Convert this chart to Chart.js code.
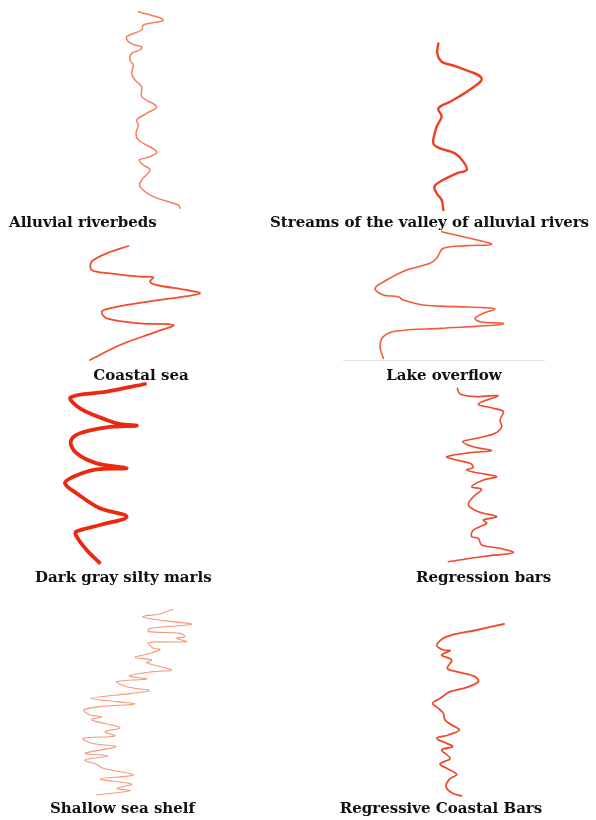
<!DOCTYPE html>
<html><head><meta charset="utf-8">
<script src="https://cdn.jsdelivr.net/npm/chart.js@4.4.1/dist/chart.umd.min.js"></script>
<style>
html,body{margin:0;padding:0;background:#fff;width:596px;height:820px;overflow:hidden;position:relative;font-family:"DejaVu Serif",serif;}
.box{position:absolute;}
.lbl{position:absolute;font-weight:bold;font-size:15px;color:#111;white-space:nowrap;line-height:18px;}
.rule{position:absolute;height:1px;background:#e2e2e2;}
</style></head><body>
<script>
// Panel titles
const titles = ["Alluvial riverbeds","Streams of the valley of alluvial rivers","Coastal sea","Lake overflow","Dark gray silty marls","Regression bars","Shallow sea shelf","Regressive Coastal Bars"];

// Log curves: value (curve deflection) and depth (arbitrary units per panel)
const riverbedsValue = [175,250,190,185,140,145,165,185,180,155,150,160,155,165,185,185,230,200,170,175,168,175,230,210,178,190,210,185,180,220,295,300];
const riverbedsDepth = [35,60,75,90,110,125,135,140,150,160,180,195,220,240,260,290,320,340,360,375,400,420,455,470,480,495,510,540,560,590,615,625];

const streamsValue = [115,112,125,170,245,200,150,115,125,110,100,120,165,190,200,170,120,103,110,125,130];
const streamsDepth = [40,70,95,110,145,185,215,235,260,290,340,355,370,395,420,430,455,470,490,510,540];

const coastalValue = [295,230,185,185,240,330,370,360,380,470,510,460,320,240,215,230,330,430,380,270,180];
const coastalDepth = [18,40,65,90,100,110,112,125,135,150,160,170,190,205,215,235,250,255,275,315,360];

const lakeValue = [305,390,455,380,310,290,270,200,140,105,130,175,190,250,350,430,465,430,405,420,490,470,300,170,130,120,130];
const lakeDepth = [20,40,58,62,70,100,115,135,165,190,210,215,225,240,245,248,252,265,280,290,295,300,310,318,335,365,400];

const marlsValue = [315,200,92,120,200,240,290,200,120,92,110,170,260,170,100,75,110,180,260,180,108,110,140,178];
const marlsDepth = [12,35,52,85,120,132,137,142,160,185,220,250,265,268,290,310,340,385,410,435,455,470,510,548];

const regressionValue = [112,120,170,235,175,220,250,240,245,225,170,128,160,215,150,80,100,150,160,140,180,230,190,155,185,160,145,175,230,190,200,160,155,175,185,240,280,200,85];
const regressionDepth = [25,42,50,47,72,85,95,120,140,160,175,185,200,212,218,230,238,250,262,270,280,290,300,320,328,350,375,395,410,420,430,450,470,475,495,505,518,528,545];

const shelfValue = [368,330,278,340,425,300,295,390,405,380,410,295,310,330,300,255,305,290,365,310,238,290,200,230,298,200,122,200,255,150,102,120,155,125,210,165,195,100,125,198,105,175,105,140,160,250,150,245,200,240,140];
const shelfDepth = [28,42,50,62,73,85,95,100,110,115,125,128,145,148,160,172,180,188,210,215,228,237,245,260,272,285,295,305,312,320,330,345,350,360,383,395,408,415,430,440,460,468,480,493,505,525,537,552,565,572,585];

const barsValue = [282,200,110,80,100,120,95,125,112,140,195,205,170,120,90,68,85,100,105,125,148,115,80,110,128,95,120,90,110,140,118,108,125,155];
const barsDepth = [42,60,80,105,120,122,135,150,175,185,200,215,232,245,265,280,295,310,330,345,360,375,385,400,410,420,445,462,475,493,508,530,548,558];

const panels = [
  {v:riverbedsValue,d:riverbedsDepth,left:80,top:0,w:160,h:215,color:'#f57f5f',width:1.5},
  {v:streamsValue,d:streamsDepth,left:400,top:30,w:120,h:185,color:'#ee3f22',width:2.4},
  {v:coastalValue,d:coastalDepth,left:30,top:240,w:200,h:125,color:'#f04f2e',width:1.8},
  {v:lakeValue,d:lakeDepth,left:340,top:225,w:210,h:140,color:'#f25c3c',width:1.6},
  {v:marlsValue,d:marlsDepth,left:40,top:380,w:140,h:190,color:'#ec2810',width:3.8},
  {v:regressionValue,d:regressionDepth,left:420,top:380,w:120,h:190,color:'#f0482a',width:1.6},
  {v:shelfValue,d:shelfDepth,left:50,top:600,w:160,h:200,color:'#f6987c',width:1.1},
  {v:barsValue,d:barsDepth,left:410,top:610,w:110,h:190,color:'#ef4a2c',width:1.8}
];

const labelPos = [
  {x:9,y:213,align:'left'},
  {x:270,y:213,align:'left'},
  {x:141,y:366,align:'center'},
  {x:444,y:366,align:'center'},
  {x:35,y:568,align:'left'},
  {x:416,y:568,align:'left'},
  {x:50,y:799,align:'left'},
  {x:441,y:799,align:'center'}
];

panels.forEach((p,i)=>{
  const div=document.createElement('div');
  div.className='box';
  div.style.left=p.left+'px';div.style.top=p.top+'px';
  div.style.width=p.w+'px';div.style.height=p.h+'px';
  const c=document.createElement('canvas');
  c.width=p.w;c.height=p.h;
  div.appendChild(c);
  document.body.appendChild(div);
  const pts=p.v.map((x,k)=>({x:x,y:p.d[k]}));
  new Chart(c,{
    type:'scatter',
    data:{datasets:[{data:pts,showLine:true,borderColor:p.color,borderWidth:p.width,pointRadius:0,tension:0.35,fill:false,borderCapStyle:'round',borderJoinStyle:'round'}]},
    options:{
      responsive:false,animation:false,
      layout:{padding:0},
      plugins:{legend:{display:false},tooltip:{enabled:false}},
      scales:{
        x:{type:'linear',display:false,min:0,max:p.w*3},
        y:{type:'linear',display:false,min:0,max:p.h*3,reverse:true}
      }
    }
  });
  const lp=labelPos[i];
  const l=document.createElement('div');
  l.className='lbl';
  l.textContent=titles[i];
  l.style.top=lp.y+'px';
  if(lp.align==='left'){l.style.left=lp.x+'px';}
  else{l.style.left=lp.x+'px';l.style.transform='translateX(-50%)';}
  document.body.appendChild(l);
});

const rule=document.createElement('div');
rule.className='rule';
rule.style.left='343px';rule.style.top='360px';rule.style.width='202px';
document.body.appendChild(rule);
</script>
</body></html>
